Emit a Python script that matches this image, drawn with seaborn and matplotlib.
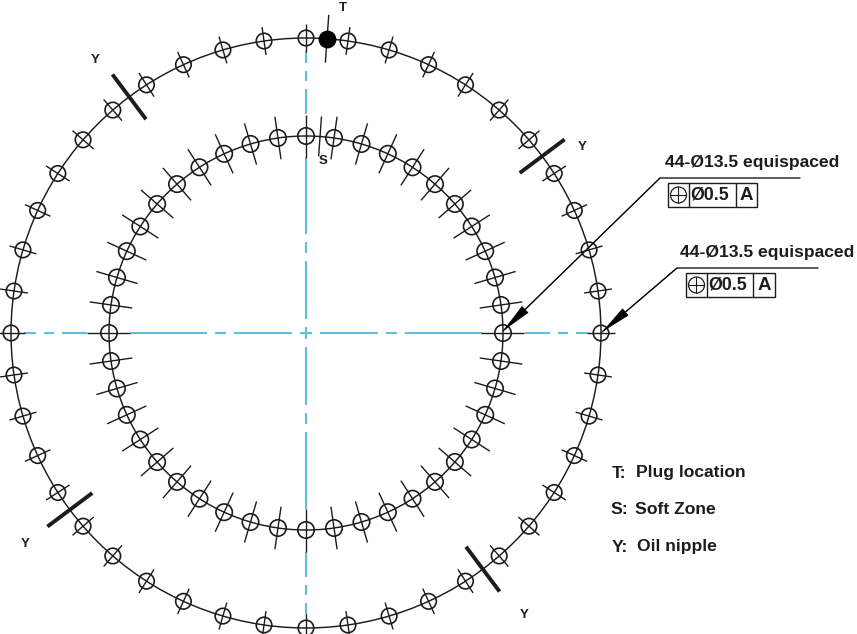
"""
Bolt hole layout, two rings of 44 holes
"""

from matplotlib import pyplot as plt
from matplotlib.patches import Circle, Rectangle
import numpy as np
import pandas as pd
import seaborn as sns

CX, CY = 306, 333
OUTER_R, INNER_R = 295, 197

hole_angles = [
    0, 8.18, 16.36, 24.55, 32.73, 40.91, 49.09, 57.27, 65.45, 73.64, 81.82,
    90, 98.18, 106.36, 114.55, 122.73, 130.91, 139.09, 147.27, 155.45, 163.64, 171.82,
    180, 188.18, 196.36, 204.55, 212.73, 220.91, 229.09, 237.27, 245.45, 253.64, 261.82,
    270, 278.18, 286.36, 294.55, 302.73, 310.91, 319.09, 327.27, 335.45, 343.64, 351.82,
]
plug_angle = 85.91
soft_zone_angle = 85.91
nipple_angles = [36.82, 126.82, 216.82, 306.82]

# radial half lengths of the tick through each hole
outer_tick = 14
inner_tick = 21.5
plug_tick = 24
soft_tick = 20
nipple_tick = 28

# dashes of the centre lines, distance from the centre
dash_start = [0, 14, 80, 99, 219, 252, 270]
dash_end = [6, 72, 91, 176, 244, 262, 282]
dash_dirs = [0, 90, 180, 270]

# leader lines: tip, elbow, end of shelf
leader_x = [[503, 660, 800], [602, 677, 818]]
leader_y = [[331, 178, 178], [332, 268, 268]]
callout_text = ["44-Ø13.5 equispaced", "44-Ø13.5 equispaced"]
callout_x = [665, 680]
callout_y = [162, 252]

# feature control frames
frame_left = [668, 686]
frame_top = [183, 273]
frame_mid = [689, 707]
frame_div = [736, 753]
frame_right = [757, 775]
frame_h = 24
frame_value = "Ø0.5"
frame_datum = "A"

marker_text = ["T", "S", "Y", "Y", "Y", "Y"]
marker_x = [343, 323, 95, 582, 25, 524]
marker_y = [8, 161, 60, 147, 544, 615]

legend_keys = ["T:", "S:", "Y:"]
legend_vals = ["Plug location", "Soft Zone", "Oil nipple"]
legend_key_x = [612, 610, 612]
legend_val_x = [636, 635, 637]
legend_y = [473, 510, 547]

INK = "#1c1c1c"
CYAN = "#62c0d6"
FONT = "Liberation Sans"


def polar(angle, radius):
    a = np.radians(angle)
    return CX + radius * np.cos(a), CY - radius * np.sin(a)


def tick_table(angles, radius, half):
    rows = []
    for i, angle in enumerate(angles):
        for r in (radius - half, radius + half):
            x, y = polar(angle, r)
            rows.append({"tick": i, "x": x, "y": y})
    return pd.DataFrame(rows)


def draw_ticks(table, lw):
    sns.lineplot(
        data=table, x="x", y="y", units="tick", estimator=None, sort=False,
        color=INK, linewidth=lw, legend=False, ax=ax, solid_capstyle="butt",
    )


sns.set_style("white")
fig = plt.figure(figsize=(8.57, 6.34), dpi=100)
ax = fig.add_axes([0, 0, 1, 1])

# centre lines
rows = []
n = 0
for d in dash_dirs:
    for s, e in zip(dash_start, dash_end):
        for r in (s, e):
            x, y = polar(d, r)
            rows.append({"tick": n, "x": x, "y": y})
        n += 1
sns.lineplot(
    data=pd.DataFrame(rows), x="x", y="y", units="tick", estimator=None, sort=False,
    color=CYAN, linewidth=1.5, legend=False, ax=ax, solid_capstyle="butt",
)

for r in (OUTER_R, INNER_R):
    ax.add_patch(Circle((CX, CY), r, fill=False, ec=INK, lw=1.05))

draw_ticks(tick_table(hole_angles, OUTER_R, outer_tick), 1.0)
draw_ticks(tick_table(hole_angles, INNER_R, inner_tick), 1.0)
draw_ticks(tick_table([plug_angle], OUTER_R, plug_tick), 1.0)
draw_ticks(tick_table([soft_zone_angle], INNER_R, soft_tick), 1.0)
draw_ticks(tick_table(nipple_angles, OUTER_R, nipple_tick), 2.8)

# holes
for radius, size in ((OUTER_R, 125), (INNER_R, 140)):
    hx, hy = polar(np.array(hole_angles), radius)
    sns.scatterplot(
        x=hx, y=hy, s=size, marker="o", edgecolor=INK,
        linewidth=1.2, legend=False, ax=ax, zorder=4,
    )
    ax.collections[-1].set_facecolor("none")
px, py = polar(np.array([plug_angle]), OUTER_R)
sns.scatterplot(x=px, y=py, s=165, marker="o", color="black", linewidth=0, legend=False, ax=ax, zorder=5)

# leaders
for xs, ys in zip(leader_x, leader_y):
    sns.lineplot(x=xs, y=ys, sort=False, estimator=None, color=INK, linewidth=1.0, ax=ax)
    ax.annotate(
        "", xy=(xs[0], ys[0]), xytext=(xs[1], ys[1]),
        arrowprops=dict(
            arrowstyle="-|>,head_length=2.0,head_width=0.3", color="black",
            lw=0.6, shrinkA=0, shrinkB=0, mutation_scale=10,
        ),
        zorder=6,
    )

for text, x, y in zip(callout_text, callout_x, callout_y):
    ax.text(x, y, text, family=FONT, weight="bold", fontsize=12.6, color=INK, ha="left", va="center")

for left, top, mid, div, right in zip(frame_left, frame_top, frame_mid, frame_div, frame_right):
    ax.add_patch(Rectangle((left, top), right - left, frame_h, fill=False, ec=INK, lw=1.0))
    ax.plot([mid, mid], [top, top + frame_h], color=INK, lw=1.0)
    ax.plot([div, div], [top, top + frame_h], color=INK, lw=1.0)
    sx, sy = (left + mid) / 2, top + frame_h / 2
    ax.add_patch(Circle((sx, sy), 8, fill=False, ec=INK, lw=0.9))
    ax.plot([sx - 8, sx + 8], [sy, sy], color=INK, lw=0.8)
    ax.plot([sx, sx], [sy - 8, sy + 8], color=INK, lw=0.8)
    ax.text(mid + 1.5, sy + 0.5, frame_value, family=FONT, weight="bold", fontsize=12.8,
            color=INK, ha="left", va="center")
    ax.text((div + right) / 2, sy + 0.5, frame_datum, family=FONT, weight="bold", fontsize=13.5,
            color=INK, ha="center", va="center")

for text, x, y in zip(marker_text, marker_x, marker_y):
    ax.text(x, y, text, family=FONT, weight="bold", fontsize=9.5, color=INK, ha="center", va="center")

for key, val, kx, vx, y in zip(legend_keys, legend_vals, legend_key_x, legend_val_x, legend_y):
    ax.text(kx, y, key, family=FONT, weight="bold", fontsize=12.6, color=INK, ha="left", va="center")
    ax.text(vx, y, val, family=FONT, weight="bold", fontsize=12.6, color=INK, ha="left", va="center")

ax.set_xlim(0, 857)
ax.set_ylim(634, 0)
ax.set_axis_off()
fig.savefig("out.png", dpi=100, facecolor="white")
